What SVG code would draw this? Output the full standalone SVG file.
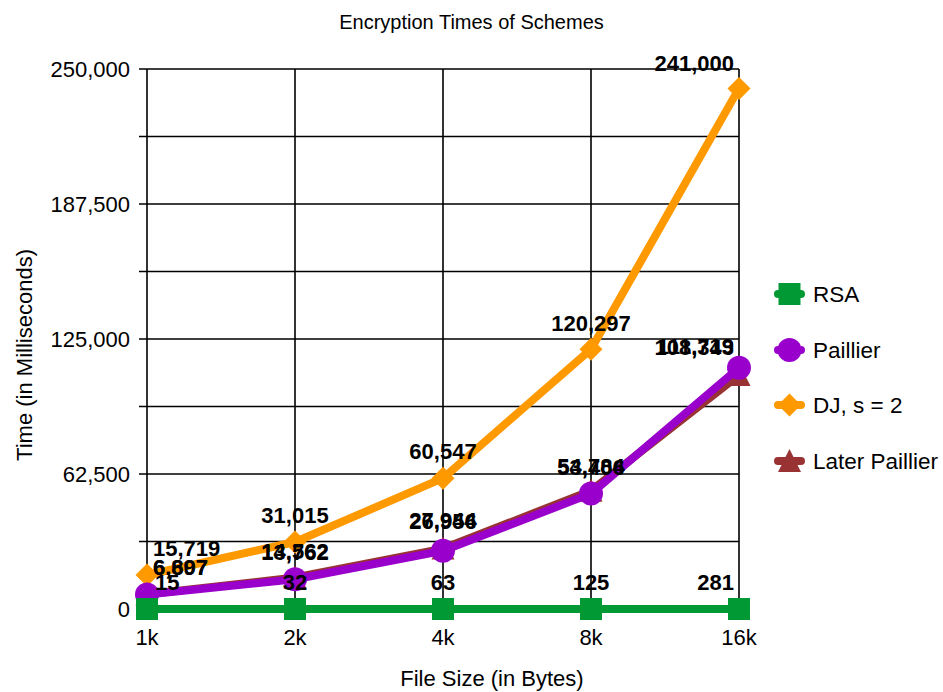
<svg xmlns="http://www.w3.org/2000/svg" width="943" height="692" viewBox="0 0 943 692">
<style>
text{font-family:"Liberation Sans",Arial,sans-serif;fill:#000}
.title{font-size:20px}
.tick{font-size:22px}
.axis{font-size:22px}
.lbl{font-size:22px;font-weight:bold}
.leg{font-size:22.5px}
.grid{stroke:#000;stroke-width:1.6;fill:none}
.ser{fill:none;stroke-width:8;stroke-linejoin:round;stroke-linecap:round}
</style>
<defs>
<rect id="mSq" x="-11" y="-11" width="22" height="22"/>
<circle id="mCi" r="12"/>
<path id="mDi" d="M0,-11.5 L11.5,0 L0,11.5 L-11.5,0 Z"/>
<path id="mTr" d="M0,-12 L11.5,11 L-11.5,11 Z"/>
</defs>
<rect width="943" height="692" fill="#fff"/>
<text class="title" x="471.5" y="29" text-anchor="middle">Encryption Times of Schemes</text>
<g id="grid">
<path class="grid" d="M147,69H739M147,136.5H739M147,204H739M147,271.5H739M147,339H739M147,406.5H739M147,474H739M147,541.5H739M147,609H739"/>
<path class="grid" d="M147,69V609M295,69V609M443,69V609M591,69V609M739,69V609"/>
<path class="grid" d="M139,69H147M139,136.5H147M139,204H147M139,271.5H147M139,339H147M139,406.5H147M139,474H147M139,541.5H147M139,609H147"/>
</g>
<g id="yticks" class="tick" text-anchor="end">
<text x="130" y="77">250,000</text>
<text x="130" y="212">187,500</text>
<text x="130" y="347">125,000</text>
<text x="130" y="482">62,500</text>
<text x="130" y="617">0</text>
</g>
<g id="xticks" class="tick" text-anchor="middle">
<text x="147" y="645">1k</text>
<text x="295" y="645">2k</text>
<text x="443" y="645">4k</text>
<text x="591" y="645">8k</text>
<text x="739" y="645">16k</text>
</g>
<text class="axis" x="492" y="686" text-anchor="middle">File Size (in Bytes)</text>
<text class="axis" transform="translate(32,355) rotate(-90)" text-anchor="middle">Time (in Milliseconds)</text>
<g id="connectors">
<g id="later-paillier" fill="#993333">
<polyline class="ser" stroke="#993333" points="147,594.3 295,577.5 443,548.6 591,490.7 739,375"/>
<use href="#mTr" x="147" y="594.3"/><use href="#mTr" x="295" y="577.5"/><use href="#mTr" x="443" y="548.6"/><use href="#mTr" x="591" y="490.7"/><use href="#mTr" x="739" y="375"/>
</g>
<g id="dj" fill="#ff9900">
<polyline class="ser" stroke="#ff9900" points="147,575 295,542 443,478.2 591,349.2 739,88.4"/>
<use href="#mDi" x="147" y="575"/><use href="#mDi" x="295" y="542"/><use href="#mDi" x="443" y="478.2"/><use href="#mDi" x="591" y="349.2"/><use href="#mDi" x="739" y="88.4"/>
</g>
<g id="paillier" fill="#9900cc">
<polyline class="ser" stroke="#9900cc" points="147,594.5 295,579.3 443,550.8 591,493.6 739,367.7"/>
<use href="#mCi" x="147" y="594.5"/><use href="#mCi" x="295" y="579.3"/><use href="#mCi" x="443" y="550.8"/><use href="#mCi" x="591" y="493.6"/><use href="#mCi" x="739" y="367.7"/>
</g>
<g id="rsa" fill="#009933">
<polyline class="ser" stroke="#009933" points="147,609 295,609 443,609 591,609 739,609"/>
<use href="#mSq" x="147" y="609"/><use href="#mSq" x="295" y="609"/><use href="#mSq" x="443" y="609"/><use href="#mSq" x="591" y="609"/><use href="#mSq" x="739" y="609"/>
</g>
</g>
<g id="labels" class="lbl">
<g text-anchor="start">
<text x="153" y="556">15,719</text>
<text x="153" y="575">6,807</text>
<text x="153" y="575">6,697</text>
<text x="155" y="590">15</text>
</g>
<g text-anchor="middle">
<text x="295" y="523">31,015</text>
<text x="295" y="559">14,562</text>
<text x="295" y="560">13,762</text>
<text x="295" y="590">32</text>
<text x="443" y="459">60,547</text>
<text x="443" y="528">27,944</text>
<text x="443" y="529">26,956</text>
<text x="443" y="590">63</text>
<text x="591" y="330.5">120,297</text>
<text x="591" y="474">54,784</text>
<text x="591" y="475">53,406</text>
<text x="591" y="590">125</text>
</g>
<g text-anchor="end">
<text x="734" y="70.5">241,000</text>
<text x="734" y="354">111,719</text>
<text x="734" y="355">108,343</text>
<text x="734" y="590">281</text>
</g>
</g>
<g id="legend">
<g id="leg-rsa" fill="#009933">
<line x1="778" y1="294" x2="801" y2="294" stroke="#009933" stroke-width="8" stroke-linecap="round"/>
<use href="#mSq" x="789.5" y="294"/>
<text class="leg" x="813" y="302">RSA</text>
</g>
<g id="leg-paillier" fill="#9900cc">
<line x1="778" y1="350" x2="801" y2="350" stroke="#9900cc" stroke-width="8" stroke-linecap="round"/>
<use href="#mCi" x="789.5" y="350"/>
<text class="leg" x="813" y="358">Paillier</text>
</g>
<g id="leg-dj" fill="#ff9900">
<line x1="778" y1="405" x2="801" y2="405" stroke="#ff9900" stroke-width="8" stroke-linecap="round"/>
<use href="#mDi" x="789.5" y="405"/>
<text class="leg" x="813" y="413">DJ, s = 2</text>
</g>
<g id="leg-later" fill="#993333">
<line x1="778" y1="461" x2="801" y2="461" stroke="#993333" stroke-width="8" stroke-linecap="round"/>
<use href="#mTr" x="789.5" y="461"/>
<text class="leg" x="813" y="469">Later Paillier</text>
</g>
</g>
</svg>
